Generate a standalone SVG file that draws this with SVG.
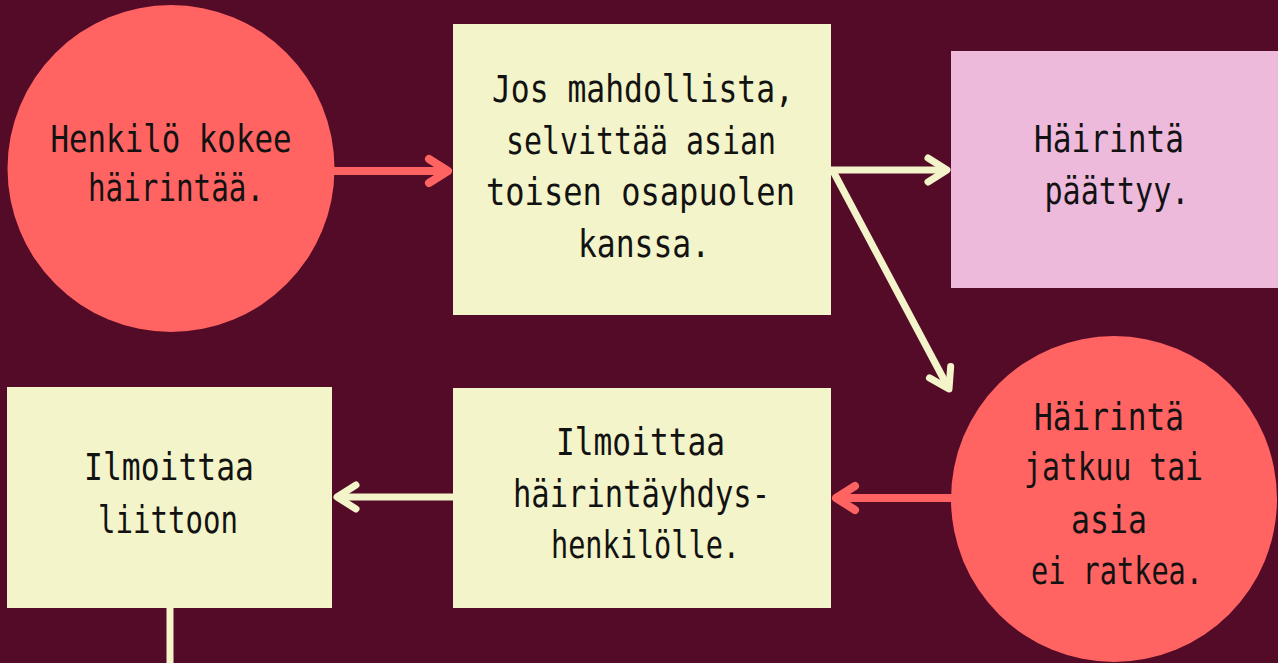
<svg xmlns="http://www.w3.org/2000/svg" width="1278" height="663" viewBox="0 0 1278 663">
<style>
.t{font-family:"DejaVu Sans Mono","Liberation Mono",monospace;font-size:37px;fill:#121212;text-anchor:middle}
.coral{fill:#ff6362}
.cream{fill:#f3f4c9}
.pink{fill:#edbadc}
.lc{stroke:#ff6362;stroke-width:8;fill:none}
.lw{stroke:#f3f4c9;stroke-width:7;fill:none}
</style>
<defs>
<marker id="hc" markerUnits="userSpaceOnUse" viewBox="-30 -20 40 40" refX="0" refY="0" markerWidth="40" markerHeight="40" orient="auto" overflow="visible">
<path d="M-19,-12 L0,0 L-19,12" fill="none" stroke="#ff6362" stroke-width="8" stroke-linecap="round" stroke-linejoin="round"/>
</marker>
<marker id="hw" markerUnits="userSpaceOnUse" viewBox="-30 -20 40 40" refX="0" refY="0" markerWidth="40" markerHeight="40" orient="auto" overflow="visible">
<path d="M-19,-12 L0,0 L-19,12" fill="none" stroke="#f3f4c9" stroke-width="7" stroke-linecap="round" stroke-linejoin="round"/>
</marker>
</defs>
<rect width="1278" height="663" fill="#540b27"/>
<g id="connectors">
<line class="lc" x1="330" y1="171" x2="448" y2="171" marker-end="url(#hc)"/>
<line class="lw" x1="831" y1="170" x2="947" y2="170" marker-end="url(#hw)"/>
<line class="lw" x1="833" y1="171" x2="949" y2="389" marker-end="url(#hw)"/>
<line class="lc" x1="952" y1="498" x2="836" y2="498" marker-end="url(#hc)"/>
<line class="lw" x1="453" y1="497" x2="337" y2="497" marker-end="url(#hw)"/>
<line class="lw" x1="170" y1="606" x2="170" y2="663"/>
</g>
<g id="n1">
<circle class="coral" cx="171" cy="168.5" r="163.5"/>
<text class="t" x="171" y="152" textLength="241" lengthAdjust="spacingAndGlyphs">Henkilö kokee</text>
<text class="t" x="176" y="201" textLength="176" lengthAdjust="spacingAndGlyphs">häirintää.</text>
</g>
<g id="n2">
<rect class="cream" x="453" y="24" width="378" height="291"/>
<text class="t" x="643" y="102" textLength="302" lengthAdjust="spacingAndGlyphs">Jos mahdollista,</text>
<text class="t" x="641" y="153.5" textLength="270" lengthAdjust="spacingAndGlyphs">selvittää asian</text>
<text class="t" x="640.5" y="205" textLength="309" lengthAdjust="spacingAndGlyphs">toisen osapuolen</text>
<text class="t" x="644" y="256.5" textLength="132" lengthAdjust="spacingAndGlyphs">kanssa.</text>
</g>
<g id="n3">
<rect class="pink" x="951" y="51" width="327" height="237"/>
<text class="t" x="1109" y="152" textLength="150" lengthAdjust="spacingAndGlyphs">Häirintä</text>
<text class="t" x="1117" y="203.5" textLength="145" lengthAdjust="spacingAndGlyphs">päättyy.</text>
</g>
<g id="n4">
<circle class="coral" cx="1114" cy="499" r="163"/>
<text class="t" x="1109" y="430" textLength="150" lengthAdjust="spacingAndGlyphs">Häirintä</text>
<text class="t" x="1113.5" y="480" textLength="179" lengthAdjust="spacingAndGlyphs">jatkuu tai</text>
<text class="t" x="1109" y="532.5" textLength="76" lengthAdjust="spacingAndGlyphs">asia</text>
<text class="t" x="1117" y="584" textLength="172" lengthAdjust="spacingAndGlyphs">ei ratkea.</text>
</g>
<g id="n5">
<rect class="cream" x="453" y="388" width="378" height="220"/>
<text class="t" x="640.5" y="455" textLength="169" lengthAdjust="spacingAndGlyphs">Ilmoittaa</text>
<text class="t" x="641.5" y="506.5" textLength="257" lengthAdjust="spacingAndGlyphs">häirintäyhdys-</text>
<text class="t" x="645.5" y="558" textLength="189" lengthAdjust="spacingAndGlyphs">henkilölle.</text>
</g>
<g id="n6">
<rect class="cream" x="7" y="387" width="325" height="221"/>
<text class="t" x="169" y="480" textLength="170" lengthAdjust="spacingAndGlyphs">Ilmoittaa</text>
<text class="t" x="168" y="532.5" textLength="140" lengthAdjust="spacingAndGlyphs">liittoon</text>
</g>
</svg>
